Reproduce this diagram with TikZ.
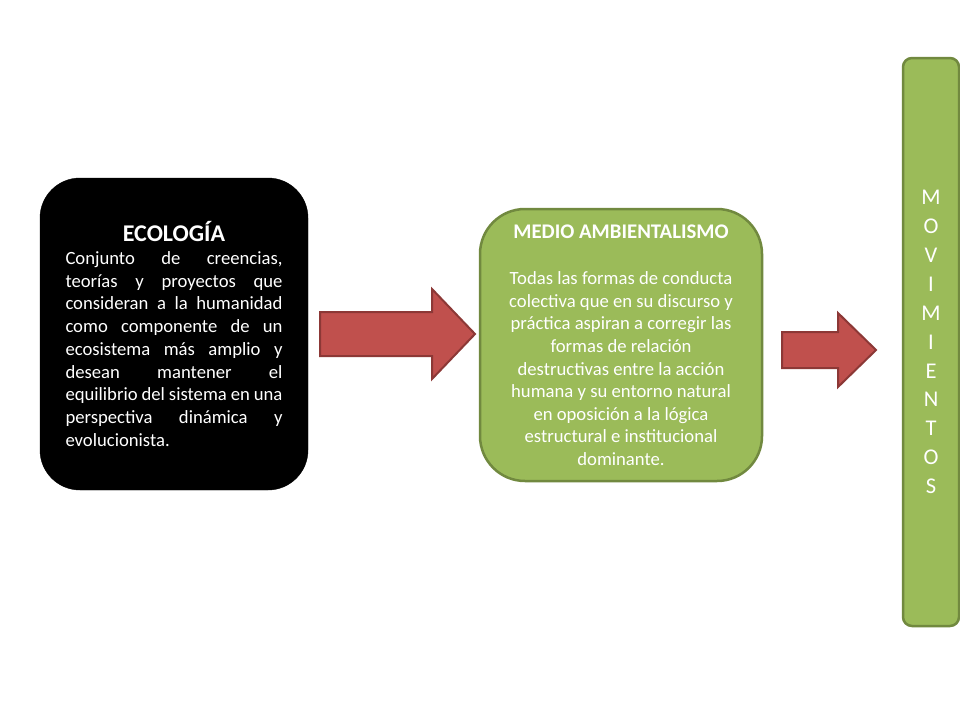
\documentclass[tikz,border=0pt]{standalone}
\usepackage{fontspec}
\setmainfont{Carlito}
\definecolor{grn}{HTML}{9BBB59}
\definecolor{grnb}{HTML}{71893F}
\definecolor{redf}{HTML}{C0504D}
\definecolor{redb}{HTML}{8C3836}
\newcommand{\jline}[1]{\makebox[217pt][s]{#1}}
\tikzset{
  blackbox/.style={draw=black, fill=black, rounded corners=40pt, text=white,
    minimum width=268pt, minimum height=312pt, inner sep=0pt, align=center,
    font=\fontsize{18.67}{22.7}\selectfont},
  greenbox/.style={draw=grnb, fill=grn, line width=2.5pt, text=white,
    inner sep=0pt, align=center, font=\fontsize{18.67}{22.6}\selectfont},
  blockarrow/.style={draw=redb, fill=redf, line width=2pt, line join=miter}
}
\begin{document}
\begin{tikzpicture}[x=1pt,y=-1pt]
\fill[white] (0,0) rectangle (960,720);
\useasboundingbox (0,0) rectangle (960,720);

\node[blackbox] (eco) at (174,334) {%
{\fontsize{24}{29}\selectfont\bfseries ECOLOGÍA}\\
\jline{Conjunto de creencias,}\\
\jline{teorías y proyectos que}\\
\jline{consideran a la humanidad}\\
\jline{como componente de un}\\
\jline{ecosistema más amplio y}\\
\jline{desean mantener el}\\
\jline{equilibrio del sistema en una}\\
\jline{perspectiva dinámica y}\\
\makebox[217pt][l]{evolucionista.}};

\node[greenbox, rounded corners=45pt, minimum width=282pt, minimum height=272pt] (med) at (621,345) {%
{\fontsize{20.8}{24}\selectfont\bfseries MEDIO AMBIENTALISMO}\\[24pt]
Todas las formas de conducta\\
colectiva que en su discurso y\\
práctica aspiran a corregir las\\
formas de relación\\
destructivas entre la acción\\
humana y su entorno natural\\
en oposición a la lógica\\
estructural e institucional\\
dominante.};

\node[greenbox, rounded corners=9pt, minimum width=56pt, minimum height=568pt,
  font=\fontsize{22.5}{28.9}\selectfont] (mov) at (931,342) {%
M\\O\\V\\I\\M\\I\\E\\N\\T\\O\\S};

\draw[blockarrow] (320,312) -- (432,312) -- (432,289) -- (475,334)
  -- (432,379) -- (432,356) -- (320,356) -- cycle;
\draw[blockarrow] (782,332) -- (838,332) -- (838,313) -- (876,350)
  -- (838,387) -- (838,368) -- (782,368) -- cycle;
\end{tikzpicture}
\end{document}
